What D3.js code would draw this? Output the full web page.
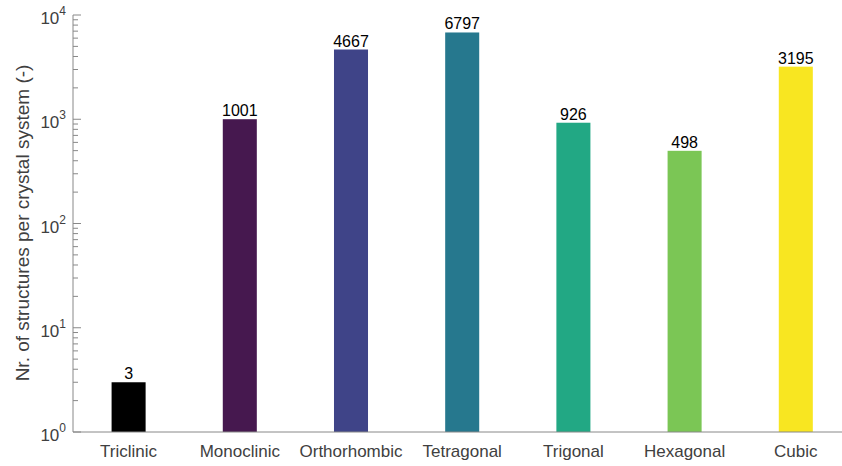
<!DOCTYPE html>
<html>
<head>
<meta charset="utf-8">
<script src="https://cdn.jsdelivr.net/npm/d3@7"></script>
<style>
body { margin: 0; background: #fff; }
text { font-family: "Liberation Sans", Arial, sans-serif; }
</style>
</head>
<body>
<div id="chart"></div>
<script>
var categories = ['Triclinic', 'Monoclinic', 'Orthorhombic', 'Tetragonal', 'Trigonal', 'Hexagonal', 'Cubic'];
var counts = [3, 1001, 4667, 6797, 926, 498, 3195];
var barColors = ['#000000', '#46184f', '#3f4488', '#26788e', '#22a884', '#7bc655', '#f8e621'];
var yExponents = [0, 1, 2, 3, 4];

var width = 842;
var height = 466;
var mLeft = 73, mTop = 15, mBottom = 432;

var svg = d3.select('#chart').append('svg')
	.attr('width', width)
	.attr('height', height);

var x = d3.scaleBand()
	.domain(categories)
	.range([mLeft, mLeft + 7 * 111.2])
	.paddingInner(0.694)
	.paddingOuter(0.347);

var y = d3.scaleLog()
	.domain([1, 1e4])
	.range([mBottom, mTop]);

// bars
svg.selectAll('.bar')
	.data(categories)
	.enter().append('rect')
		.attr('class', 'bar')
		.attr('x', function(d) { return x(d); })
		.attr('width', x.bandwidth())
		.attr('y', function(d, i) { return y(counts[i]); })
		.attr('height', function(d, i) { return mBottom - y(counts[i]); })
		.attr('fill', function(d, i) { return barColors[i]; });

// value labels
svg.selectAll('.val')
	.data(categories)
	.enter().append('text')
		.attr('class', 'val')
		.attr('x', function(d) { return x(d) + x.bandwidth() / 2; })
		.attr('y', function(d, i) { return y(counts[i]) - 3; })
		.attr('text-anchor', 'middle')
		.attr('font-size', 16)
		.attr('fill', '#000')
		.text(function(d, i) { return counts[i]; });

// y axis - ticks inward
var gY = svg.append('g').attr('class', 'y-axis');
var minor = [];
yExponents.slice(0, -1).forEach(function(e) {
	for (var m = 2; m <= 9; m++) minor.push(m * Math.pow(10, e));
});

gY.selectAll('.minor')
	.data(minor)
	.enter().append('line')
		.attr('x1', mLeft).attr('x2', mLeft + 5)
		.attr('y1', function(d) { return y(d); })
		.attr('y2', function(d) { return y(d); })
		.attr('stroke', '#888').attr('stroke-width', 1);

gY.selectAll('.major')
	.data(yExponents)
	.enter().append('line')
		.attr('x1', mLeft).attr('x2', mLeft + 8)
		.attr('y1', function(d) { return y(Math.pow(10, d)); })
		.attr('y2', function(d) { return y(Math.pow(10, d)); })
		.attr('stroke', '#888').attr('stroke-width', 1);

var lbl = gY.selectAll('.tick-label')
	.data(yExponents)
	.enter().append('text')
		.attr('x', mLeft - 7)
		.attr('y', function(d) { return y(Math.pow(10, d)) + 9; })
		.attr('text-anchor', 'end')
		.attr('fill', '#404040')
		.attr('font-size', 17);
lbl.append('tspan').text('10');
lbl.append('tspan')
	.attr('dy', -9)
	.attr('font-size', 12)
	.text(function(d) { return d; });

gY.append('line')
	.attr('x1', mLeft).attr('x2', mLeft)
	.attr('y1', mTop).attr('y2', mBottom)
	.attr('stroke', '#888');

// x axis
var gX = svg.append('g');
gX.append('line')
	.attr('x1', mLeft).attr('x2', width)
	.attr('y1', mBottom).attr('y2', mBottom)
	.attr('stroke', '#888');

gX.selectAll('.cat')
	.data(categories)
	.enter().append('text')
		.attr('x', function(d) { return x(d) + x.bandwidth() / 2; })
		.attr('y', 457)
		.attr('text-anchor', 'middle')
		.attr('font-size', 17)
		.attr('fill', '#404040')
		.text(function(d) { return d; });

// y title
svg.append('text')
	.attr('transform', 'translate(29,223) rotate(-90)')
	.attr('text-anchor', 'middle')
	.attr('font-size', 19)
	.attr('fill', '#404040')
	.text('Nr. of structures per crystal system (-)');
</script>
</body>
</html>
